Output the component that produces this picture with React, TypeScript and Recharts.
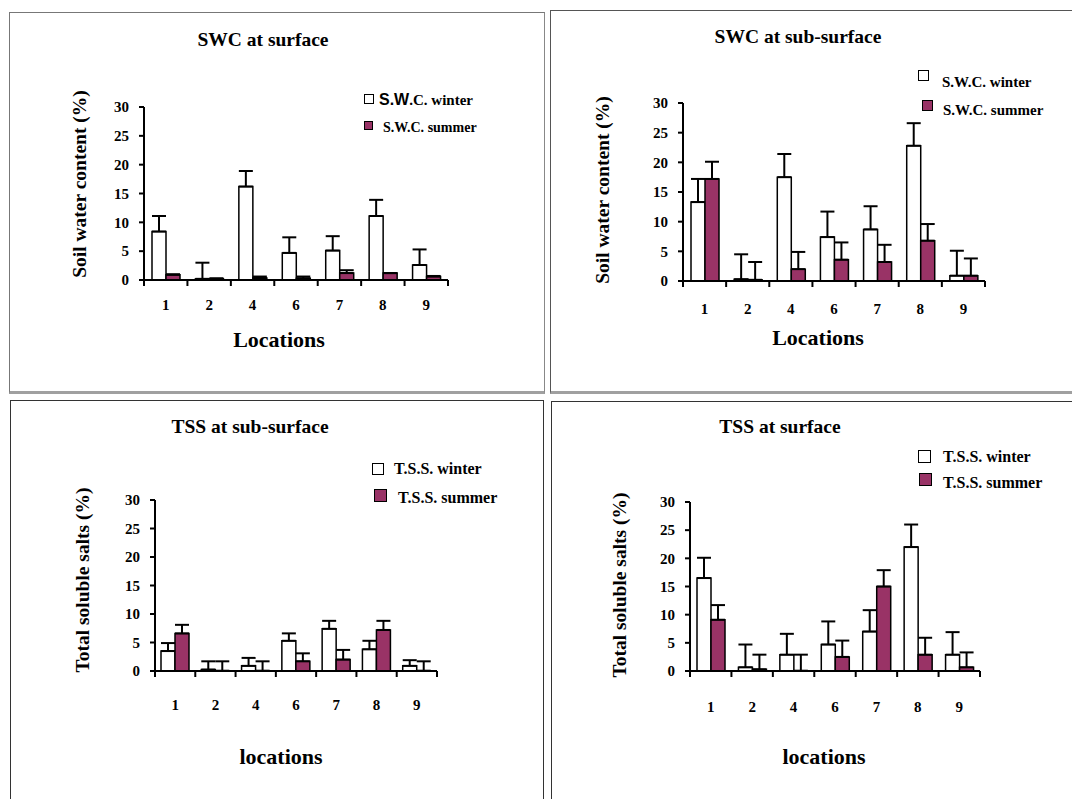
import React from 'react';
import { BarChart, Bar, XAxis, YAxis, ErrorBar } from 'recharts';

const locations = ['1', '2', '4', '6', '7', '8', '9'];
const yTicks = [0, 5, 10, 15, 20, 25, 30];

// SWC at surface (value, top of error bar)
const swcSurfWinter = [8.4, 0.2, 16.2, 4.7, 5.1, 11.1, 2.6];
const swcSurfWinterTop = [11.1, 3.0, 18.9, 7.4, 7.6, 13.9, 5.3];
const swcSurfSummer = [0.9, 0.2, 0.35, 0.3, 1.2, 1.2, 0.6];
const swcSurfSummerTop = [1.0, 0.3, 0.6, 0.6, 1.7, 1.2, 0.7];

// SWC at sub-surface
const swcSubWinter = [13.3, 0.3, 17.5, 7.4, 8.7, 22.8, 0.9];
const swcSubWinterTop = [17.2, 4.5, 21.4, 11.7, 12.6, 26.6, 5.1];
const swcSubSummer = [17.2, 0.2, 2.0, 3.6, 3.2, 6.8, 0.9];
const swcSubSummerTop = [20.1, 3.2, 4.9, 6.5, 6.1, 9.6, 3.8];

// TSS at sub-surface
const tssSubWinter = [3.5, 0.25, 0.9, 5.3, 7.4, 3.8, 0.9];
const tssSubWinterTop = [4.9, 1.7, 2.3, 6.6, 8.8, 5.3, 1.9];
const tssSubSummer = [6.6, 0.05, 0.05, 1.7, 2.0, 7.2, 0.05];
const tssSubSummerTop = [8.1, 1.7, 1.7, 3.1, 3.7, 8.8, 1.7];

// TSS at surface
const tssSurfWinter = [16.5, 0.65, 2.9, 4.7, 7.0, 22.0, 2.9];
const tssSurfWinterTop = [20.1, 4.7, 6.6, 8.8, 10.8, 26.0, 6.9];
const tssSurfSummer = [9.1, 0.3, 0.05, 2.5, 15.0, 2.9, 0.65];
const tssSurfSummerTop = [11.7, 2.9, 2.9, 5.4, 17.9, 5.9, 3.3];

const SERIF = '"Liberation Serif", "Times New Roman", serif';
const SANS = '"Liberation Sans", Arial, sans-serif';
const SUMMER = '#993366';

const buildRows = (w: number[], wt: number[], s: number[], st: number[]) =>
  locations.map((loc, i) => ({
    loc,
    winter: w[i],
    winterErr: [0, +(wt[i] - w[i]).toFixed(2)],
    summer: s[i],
    summerErr: [0, +(st[i] - s[i]).toFixed(2)]
  }));

const XTick = (props: any) => {
  const { x, y, payload, index, band, dy } = props;
  return (
    <g>
      {index === 0 && (
        <line x1={x - band / 2} x2={x - band / 2} y1={y - 6} y2={y} stroke="#000" strokeWidth={2} />
      )}
      <line x1={x + band / 2} x2={x + band / 2} y1={y - 6} y2={y} stroke="#000" strokeWidth={2} />
      <text
        x={x}
        y={y + dy}
        textAnchor="middle"
        fontFamily={SERIF}
        fontWeight="bold"
        fontSize={15}
        fill="#000"
      >
        {payload.value}
      </text>
    </g>
  );
};

type Pt = { x: number; y: number };

type PanelProps = {
  rows: ReturnType<typeof buildRows>;
  plot: { left: number; top: number; right: number; bottom: number };
  tickDy: number;
  title: string;
  titleAt: Pt;
  xLabel: string;
  xLabelAt: Pt;
  yLabel: string;
  yLabelAt: Pt;
  legendWinter: React.ReactNode;
  legendSummer: React.ReactNode;
  winterBox: { x: number; y: number; s: number };
  summerBox: { x: number; y: number; s: number };
  winterText: Pt;
  summerText: Pt;
  legendSize: number;
};

const textStyle = (p: Pt, size: number, extra: React.CSSProperties = {}): React.CSSProperties => ({
  position: 'absolute',
  left: p.x,
  top: p.y,
  transform: 'translate(-50%, -50%)',
  fontFamily: SERIF,
  fontWeight: 'bold',
  fontSize: size,
  lineHeight: 1,
  whiteSpace: 'nowrap',
  color: '#000',
  ...extra
});

const Panel = (p: PanelProps) => {
  const plotW = p.plot.right - p.plot.left;
  const plotH = p.plot.bottom - p.plot.top;
  const band = plotW / locations.length;
  const yW = 60;
  const xH = 50;
  return (
    <>
      <div style={textStyle(p.titleAt, 19.5)}>{p.title}</div>
      <div style={textStyle(p.xLabelAt, 22)}>{p.xLabel}</div>
      <div style={textStyle(p.yLabelAt, 19.5, { transform: 'translate(-50%, -50%) rotate(-90deg)' })}>
        {p.yLabel}
      </div>
      <div
        style={{
          position: 'absolute',
          left: p.winterBox.x,
          top: p.winterBox.y,
          width: p.winterBox.s,
          height: p.winterBox.s,
          border: '1.5px solid #000',
          background: '#fff',
          boxSizing: 'border-box'
        }}
      />
      <div
        style={{
          position: 'absolute',
          left: p.summerBox.x,
          top: p.summerBox.y,
          width: p.summerBox.s,
          height: p.summerBox.s,
          border: '1.5px solid #000',
          background: SUMMER,
          boxSizing: 'border-box'
        }}
      />
      <div style={textStyle(p.winterText, p.legendSize, { transform: 'translate(0, -50%)' })}>
        {p.legendWinter}
      </div>
      <div style={textStyle(p.summerText, p.legendSize, { transform: 'translate(0, -50%)' })}>
        {p.legendSummer}
      </div>
      <div style={{ position: 'absolute', left: p.plot.left - yW, top: p.plot.top - 10 }}>
        <BarChart
          width={plotW + yW + 10}
          height={plotH + 10 + xH}
          data={p.rows}
          margin={{ top: 10, right: 10, bottom: 0, left: 0 }}
          barGap={0}
        >
          <XAxis
            dataKey="loc"
            height={xH}
            interval={0}
            tickLine={false}
            tickSize={6}
            tickMargin={0}
            axisLine={{ stroke: '#000', strokeWidth: 2 }}
            tick={(t: any) => <XTick {...t} band={band} dy={p.tickDy} />}
          />
          <YAxis
            width={yW}
            domain={[0, 30]}
            ticks={yTicks}
            interval={0}
            tickSize={5}
            tickMargin={10}
            axisLine={{ stroke: '#000', strokeWidth: 2 }}
            tickLine={{ stroke: '#000', strokeWidth: 2 }}
            tick={{ fill: '#000', fontSize: 15, fontWeight: 'bold', fontFamily: SERIF }}
          />
          <Bar dataKey="winter" fill="#fff" stroke="#000" strokeWidth={1.5} barSize={14} isAnimationActive={false}>
            <ErrorBar dataKey="winterErr" width={7} stroke="#000" strokeWidth={2} direction="y" isAnimationActive={false} />
          </Bar>
          <Bar dataKey="summer" fill={SUMMER} stroke="#000" strokeWidth={1.5} barSize={14} isAnimationActive={false}>
            <ErrorBar dataKey="summerErr" width={7} stroke="#000" strokeWidth={2} direction="y" isAnimationActive={false} />
          </Bar>
        </BarChart>
      </div>
    </>
  );
};

const swcLabel = (season: string, sansPrefix: boolean) =>
  sansPrefix ? (
    <>
      <span style={{ fontFamily: SANS, fontSize: 16 }}>S.W</span>
      <span style={{ fontSize: 15 }}>.C. {season}</span>
    </>
  ) : (
    <span>S.W.C. {season}</span>
  );

export default function App() {
  return (
    <div
      style={{
        position: 'absolute',
        left: 0,
        top: 0,
        width: 1072,
        height: 799,
        background: '#fff',
        overflow: 'hidden'
      }}
    >
      {/* panel frames */}
      <div style={{ position: 'absolute', left: 9, top: 12, width: 536, height: 382, borderLeft: '1px solid #777', borderTop: '1px solid #777', borderRight: '1px solid #888', borderBottom: '3px solid #a0a0a0', boxSizing: 'border-box' }} />
      <div style={{ position: 'absolute', left: 550, top: 10, width: 540, height: 384, borderLeft: '1px solid #555', borderTop: '1px solid #555', borderBottom: '3px solid #a0a0a0', boxSizing: 'border-box' }} />
      <div style={{ position: 'absolute', left: 10, top: 400, width: 534, height: 420, border: '1px solid #333', boxSizing: 'border-box' }} />
      <div style={{ position: 'absolute', left: 551, top: 401, width: 540, height: 420, border: '1px solid #333', boxSizing: 'border-box' }} />

      <Panel
        rows={buildRows(swcSurfWinter, swcSurfWinterTop, swcSurfSummer, swcSurfSummerTop)}
        plot={{ left: 144, top: 107, right: 448, bottom: 280 }}
        tickDy={24}
        title="SWC at surface"
        titleAt={{ x: 263, y: 40 }}
        xLabel="Locations"
        xLabelAt={{ x: 279, y: 340 }}
        yLabel="Soil water content (%)"
        yLabelAt={{ x: 80, y: 184 }}
        legendWinter={swcLabel('winter', true)}
        legendSummer={swcLabel('summer', false)}
        winterBox={{ x: 364, y: 94, s: 10 }}
        summerBox={{ x: 364, y: 121, s: 9 }}
        winterText={{ x: 379, y: 100 }}
        summerText={{ x: 383, y: 128 }}
        legendSize={14}
      />
      <Panel
        rows={buildRows(swcSubWinter, swcSubWinterTop, swcSubSummer, swcSubSummerTop)}
        plot={{ left: 683, top: 103, right: 985, bottom: 281 }}
        tickDy={27}
        title="SWC at sub-surface"
        titleAt={{ x: 798, y: 37 }}
        xLabel="Locations"
        xLabelAt={{ x: 818, y: 338 }}
        yLabel="Soil water content (%)"
        yLabelAt={{ x: 603, y: 190 }}
        legendWinter={swcLabel('winter', false)}
        legendSummer={swcLabel('summer', false)}
        winterBox={{ x: 918, y: 70, s: 11 }}
        summerBox={{ x: 922, y: 100, s: 11 }}
        winterText={{ x: 942, y: 82 }}
        summerText={{ x: 943, y: 110 }}
        legendSize={15}
      />
      <Panel
        rows={buildRows(tssSubWinter, tssSubWinterTop, tssSubSummer, tssSubSummerTop)}
        plot={{ left: 155, top: 500, right: 437, bottom: 671 }}
        tickDy={33}
        title="TSS at sub-surface"
        titleAt={{ x: 250, y: 427 }}
        xLabel="locations"
        xLabelAt={{ x: 281, y: 757 }}
        yLabel="Total soluble salts (%)"
        yLabelAt={{ x: 83, y: 580 }}
        legendWinter={<span>T.S.S. winter</span>}
        legendSummer={<span>T.S.S. summer</span>}
        winterBox={{ x: 372, y: 463, s: 12 }}
        summerBox={{ x: 374, y: 489, s: 13 }}
        winterText={{ x: 394, y: 469 }}
        summerText={{ x: 398, y: 498 }}
        legendSize={16}
      />
      <Panel
        rows={buildRows(tssSurfWinter, tssSurfWinterTop, tssSurfSummer, tssSurfSummerTop)}
        plot={{ left: 690, top: 502, right: 980, bottom: 671 }}
        tickDy={35}
        title="TSS at surface"
        titleAt={{ x: 780, y: 427 }}
        xLabel="locations"
        xLabelAt={{ x: 824, y: 757 }}
        yLabel="Total soluble salts (%)"
        yLabelAt={{ x: 620, y: 585 }}
        legendWinter={<span>T.S.S. winter</span>}
        legendSummer={<span>T.S.S. summer</span>}
        winterBox={{ x: 918, y: 450, s: 13 }}
        summerBox={{ x: 919, y: 473, s: 13 }}
        winterText={{ x: 943, y: 457 }}
        summerText={{ x: 943, y: 483 }}
        legendSize={16}
      />
    </div>
  );
}
